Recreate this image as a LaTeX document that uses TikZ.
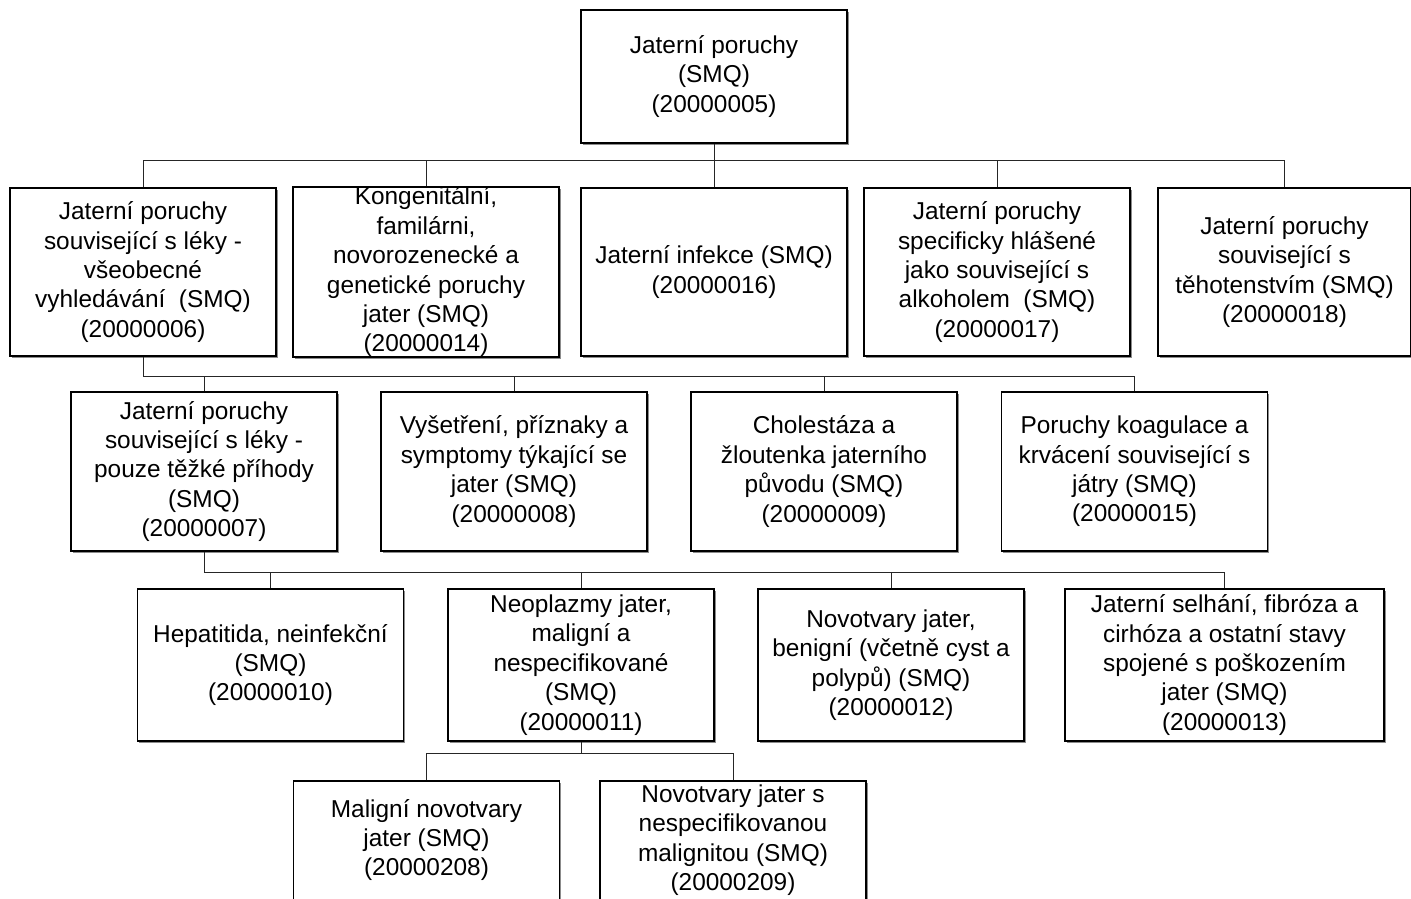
\documentclass[tikz,border=0pt]{standalone}
\usepackage{fontspec}
\setmainfont{Liberation Sans}
\usetikzlibrary{shadows}
\begin{document}
\begin{tikzpicture}[x=1pt,y=-1pt,
  box/.style={draw=black, line width=1.1pt, fill=white, align=center, inner sep=0pt,
    font=\fontsize{24.4}{29.4}\selectfont, minimum width=266pt,
    drop shadow={shadow xshift=1.6pt, shadow yshift=-1.6pt, fill=black!45, opacity=1}},
  lbl/.style={font=\fontsize{24.4}{29.4}\selectfont, align=center, inner sep=0pt},
  conn/.style={draw=black!85, line width=1pt}]
\useasboundingbox (0,0) rectangle (1411,899);
% level 0
\node[box, minimum height=133pt] (top) at (714,76.5) {Jaterní poruchy\\(SMQ)\\(20000005)};
% level 1
\node[box, minimum height=168pt] (b1) at (143,272) {Jaterní poruchy\\související s léky -\\všeobecné\\vyhledávání~~(SMQ)\\(20000006)};
\node[box, minimum height=168pt] (b2) at (426,272) {Kongenitální,\\familárni,\\novorozenecké a\\genetické poruchy\\jater (SMQ)\\(20000014)};
\node[box, minimum height=168pt] (b3) at (714,272) {Jaterní infekce (SMQ)\\(20000016)};
\node[box, minimum height=168pt] (b4) at (997,272) {Jaterní poruchy\\specificky hlášené\\jako související s\\alkoholem~~(SMQ)\\(20000017)};
\node[box, minimum height=168pt, minimum width=253pt] (b5) at (1284.5,272) {Jaterní poruchy\\související s\\těhotenstvím (SMQ)\\(20000018)};
% level 2
\node[box, minimum height=159pt] (c1) at (204,471.5) {Jaterní poruchy\\související s léky -\\pouze těžké příhody\\(SMQ)\\(20000007)};
\node[box, minimum height=159pt] (c2) at (514,471.5) {Vyšetření, příznaky a\\symptomy týkající se\\jater (SMQ)\\(20000008)};
\node[box, minimum height=159pt] (c3) at (824,471.5) {Cholestáza a\\žloutenka jaterního\\původu (SMQ)\\(20000009)};
\node[box, minimum height=159pt] (c4) at (1134.5,471.5) {Poruchy koagulace a\\krvácení související s\\játry (SMQ)\\(20000015)};
% level 3
\node[box, minimum height=152pt] (d1) at (270.5,665) {Hepatitida, neinfekční\\(SMQ)\\(20000010)};
\node[box, minimum height=152pt] (d2) at (581,665) {Neoplazmy jater,\\maligní a\\nespecifikované\\(SMQ)\\(20000011)};
\node[box, minimum height=152pt] (d3) at (891,665) {Novotvary jater,\\benigní (včetně cyst a\\polypů) (SMQ)\\(20000012)};
\node[box, minimum height=152pt, minimum width=319pt] (d4) at (1224.5,665) {Jaterní selhání, fibróza a\\cirhóza a ostatní stavy\\spojené s poškozením\\jater (SMQ)\\(20000013)};
% level 4
\node[box, minimum height=122pt] (e1) at (426.5,842) {};
\node[lbl] (e1t) at (426.5,840) {Maligní novotvary\\jater (SMQ)\\(20000208)};
\node[box, minimum height=122pt] (e2) at (733,842) {};
\node[lbl] (e2t) at (733,840) {Novotvary jater s\\nespecifikovanou\\malignitou (SMQ)\\(20000209)};
% buses
\coordinate (busA) at (0,160);
\coordinate (busB) at (0,376);
\coordinate (busC) at (0,572);
\coordinate (busD) at (0,753);
\draw[conn] (top.south) -- (top.south |- busA);
\draw[conn] (b1.north) |- (b5.north |- busA) -- (b5.north);
\foreach \n in {b2,b3,b4} \draw[conn] (\n.north) -- (\n.north |- busA);
\draw[conn] (b1.south) |- (c4.north |- busB) -- (c4.north);
\foreach \n in {c1,c2,c3} \draw[conn] (\n.north) -- (\n.north |- busB);
\draw[conn] (c1.south) |- (d4.north |- busC) -- (d4.north);
\foreach \n in {d1,d2,d3} \draw[conn] (\n.north) -- (\n.north |- busC);
\draw[conn] (d2.south) -- (d2.south |- busD);
\draw[conn] (e1.north) |- (e2.north |- busD) -- (e2.north);
\end{tikzpicture}
\end{document}
